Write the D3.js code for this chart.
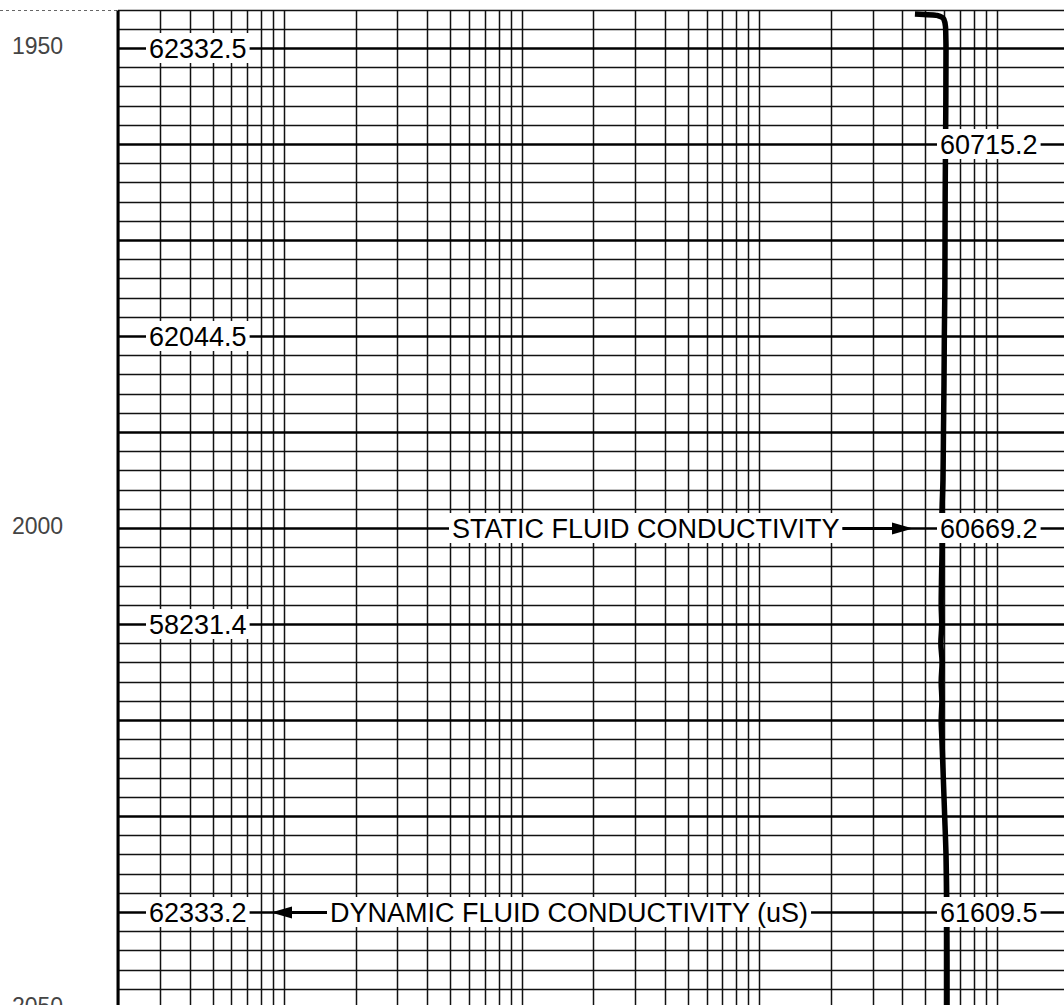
<!DOCTYPE html>
<html>
<head>
<meta charset="utf-8">
<script src="https://cdnjs.cloudflare.com/ajax/libs/d3/7.8.5/d3.min.js"></script>
<style>
    body { margin: 0; background: #fff; }
    svg { display: block; }
</style>
</head>
<body>
<div id="log"></div>
<script>
// DATA
var depthTicks = [1950, 2000, 2050];

// readings printed on the left side of the track (dynamic)
var leftLabelDepths = [1950, 1980, 2010, 2040];
var leftLabelValues = ["62332.5", "62044.5", "58231.4", "62333.2"];

// readings printed next to the curve (static)
var rightLabelDepths = [1960, 2000, 2040];
var rightLabelValues = ["60715.2", "60669.2", "61609.5"];

// static fluid conductivity curve (uS)
var curveDepths = [1946.45, 1946.6, 1947.0, 1947.8, 1949, 1950, 1955, 1960, 1965, 1970, 1975, 1980, 1985, 1990,
    1995, 1999, 2002, 2005, 2008, 2010, 2012, 2014, 2016, 2018, 2020, 2022, 2025, 2028, 2031, 2034,
    2037, 2040, 2045, 2050];
var curveValues = [45200, 56000, 59800, 60800, 61000, 61100, 61000, 60800, 60600, 60500, 60400, 60100, 59900, 59600,
    59300, 58700, 58800, 58500, 58300, 58600, 58100, 58800, 58300, 58700, 58300, 58700, 59300, 59900, 60500, 61100,
    61400, 61600, 61700, 61700];

//CREATE SVG WRAPPER
var svgWidth = 1064;
var svgHeight = 1005;

var trackLeft = 118;

var svg = d3.select("#log")
    .append("svg")
    .attr("width", svgWidth)
    .attr("height", svgHeight);

//SCALES: depth goes down, conductivity on a 4 decade log grid
var yScale = d3.scaleLinear()
    .domain([1950, 2050])
    .range([48, 1008]);

var xScale = d3.scaleLog()
    .domain([20, 200000])
    .range([trackLeft, trackLeft + 4 * 237.6]);

// snap grid lines to whole pixels
function py(d) { return Math.round(yScale(d)) + 0.5; }
function px(v) { return Math.round(xScale(v)) + 0.5; }

var gridTop = py(1946);

//HORIZONTAL GRID every 2 ft, heavy every 10 ft
var minorDepths = d3.range(1946, 2051, 2).filter(d => d % 10 != 0);
var majorDepths = d3.range(1950, 2051, 10);

svg.append("g")
    .selectAll("line")
    .data(minorDepths)
    .enter()
    .append("line")
    .attr("x1", trackLeft)
    .attr("x2", svgWidth)
    .attr("y1", d => py(d))
    .attr("y2", d => py(d))
    .attr("stroke", "#111")
    .attr("stroke-width", 1.5);

// dotted edge of the sheet at the top
svg.append("line")
    .attr("x1", 0)
    .attr("x2", trackLeft)
    .attr("y1", gridTop)
    .attr("y2", gridTop)
    .attr("stroke", "#666")
    .attr("stroke-width", 1)
    .attr("stroke-dasharray", "3,3");

//VERTICAL GRID from the log scale ticks
svg.append("g")
    .selectAll("line")
    .data(xScale.ticks())
    .enter()
    .append("line")
    .attr("x1", d => px(d))
    .attr("x2", d => px(d))
    .attr("y1", gridTop)
    .attr("y2", svgHeight)
    .attr("stroke", "#111")
    .attr("stroke-width", 1.5);

svg.append("g")
    .selectAll("line")
    .data(majorDepths)
    .enter()
    .append("line")
    .attr("x1", trackLeft)
    .attr("x2", svgWidth)
    .attr("y1", d => py(d))
    .attr("y2", d => py(d))
    .attr("stroke", "#000")
    .attr("stroke-width", 2.6);

// left edge of the track
svg.append("line")
    .attr("x1", trackLeft)
    .attr("x2", trackLeft)
    .attr("y1", gridTop)
    .attr("y2", svgHeight)
    .attr("stroke", "#000")
    .attr("stroke-width", 3);

//CURVE
var curveData = curveDepths.map((d, i) => ({ depth: d, value: curveValues[i] }));

var line = d3.line()
    .x(d => xScale(d.value))
    .y(d => yScale(d.depth))
    .curve(d3.curveMonotoneY);

svg.append("path")
    .datum(curveData)
    .attr("d", line)
    .attr("fill", "none")
    .attr("stroke", "#000")
    .attr("stroke-width", 5.5)
    .attr("stroke-linejoin", "round");

//LABELS with white boxes so the grid stops around them
var labelFont = "'Liberation Sans', Arial, sans-serif";

function boxedText(x, y, txt, size) {
    var g = svg.append("g");
    var rect = g.append("rect").attr("fill", "#fff");
    var t = g.append("text")
        .attr("x", x)
        .attr("y", y)
        .attr("dy", "0.36em")
        .attr("font-family", labelFont)
        .attr("font-size", size)
        .attr("fill", "#000")
        .text(txt);
    var bb = t.node().getBBox();
    rect.attr("x", bb.x - 3)
        .attr("y", y - 15)
        .attr("width", bb.width + 6)
        .attr("height", 30);
    return bb;
}

leftLabelDepths.forEach(function(d, i) {
    boxedText(trackLeft + 31, yScale(d), leftLabelValues[i], 27);
});

rightLabelDepths.forEach(function(d, i) {
    boxedText(940, yScale(d), rightLabelValues[i], 27);
});

var staticBox = boxedText(452, yScale(2000), "STATIC FLUID CONDUCTIVITY", 27);
var dynBox = boxedText(330, yScale(2040), "DYNAMIC FLUID CONDUCTIVITY (uS)", 27);

//ARROWS
var yS = py(2000);
svg.append("line")
    .attr("x1", staticBox.x + staticBox.width + 3)
    .attr("x2", 905)
    .attr("y1", yS)
    .attr("y2", yS)
    .attr("stroke", "#000")
    .attr("stroke-width", 3);

svg.append("path")
    .attr("d", `M892,${yS - 6}L913,${yS}L892,${yS + 6}Z`)
    .attr("fill", "#000");

var yD = py(2040);
svg.append("line")
    .attr("x1", 280)
    .attr("x2", dynBox.x - 3)
    .attr("y1", yD)
    .attr("y2", yD)
    .attr("stroke", "#000")
    .attr("stroke-width", 3);

svg.append("path")
    .attr("d", `M292,${yD - 6}L271,${yD}L292,${yD + 6}Z`)
    .attr("fill", "#000");

//DEPTH LABELS left of the track
svg.append("g")
    .selectAll("text")
    .data(depthTicks)
    .enter()
    .append("text")
    .attr("x", 12)
    .attr("y", d => yScale(d) - 2)
    .attr("dy", "0.36em")
    .attr("font-family", labelFont)
    .attr("font-size", 23)
    .attr("fill", "#444")
    .text(d => d);
</script>
</body>
</html>
